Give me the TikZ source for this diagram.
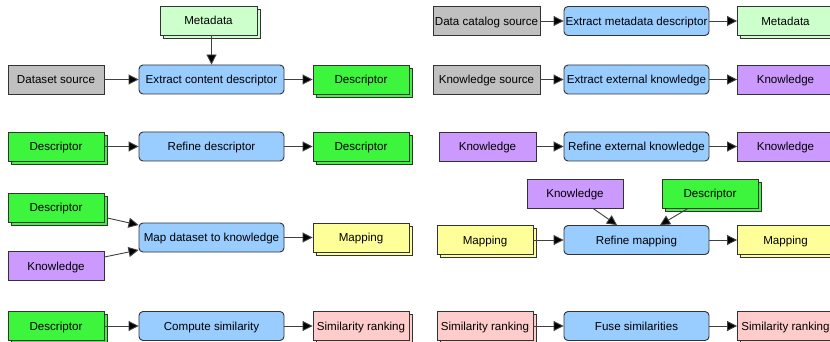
\documentclass[tikz,border=0pt]{standalone}
\usepackage{fontspec}
\setmainfont{Liberation Sans}
\usetikzlibrary{arrows.meta,shadows}
\definecolor{cgray}{HTML}{C0C0C0}
\definecolor{cblue}{HTML}{99CCFF}
\definecolor{cgreen}{HTML}{3CF53C}
\definecolor{clgreen}{HTML}{CCFFCC}
\definecolor{cpurple}{HTML}{CC99FF}
\definecolor{cyellow}{HTML}{FFFF99}
\definecolor{cpink}{HTML}{FFCCCC}
\definecolor{cborder}{HTML}{333333}
\tikzset{
  base/.style={draw=cborder, line width=0.9pt, inner sep=0pt, minimum height=29pt, minimum width=96pt, font=\fontsize{11.6}{13}\selectfont, text=black, text height=8.3pt, text depth=0pt},
  src/.style={base, fill=cgray},
  proc/.style={base, fill=cblue, rounded corners=4pt, minimum width=145pt},
  stack/.style={copy shadow={shadow xshift=3pt, shadow yshift=-3pt}},
  descbox/.style={base, fill=cgreen, stack},
  metabox/.style={base, fill=clgreen, stack},
  knowbox/.style={base, fill=cpurple},
  mapbox/.style={base, fill=cyellow, stack},
  simbox/.style={base, fill=cpink, stack},
  conn/.style={draw=black!75, line width=0.9pt, -{Triangle[length=10pt,width=10pt,fill=black]}},
}
\begin{document}
\begin{tikzpicture}[x=1pt,y=-1pt]
\clip (0,0) rectangle (830,342);
\fill[white] (0,0) rectangle (830,342);
% ---- left column ----
\node[src] (ds1) at (56,79.5) {Dataset source};
\node[proc] (ecd) at (211.5,79.5) {Extract content descriptor};
\node[descbox] (desc1) at (361,79.5) {Descriptor};
\node[metabox, minimum width=97pt] (meta1) at (208.5,20.5) {Metadata};
\draw[conn] (ds1) -- (ecd);
\draw[conn] (ecd) -- (desc1);
\draw[conn] (meta1.south -| ecd.north) -- (ecd.north);

\node[descbox] (desc2a) at (56,146.5) {Descriptor};
\node[proc] (rd) at (211.5,146.5) {Refine descriptor};
\node[descbox] (desc2b) at (361,146.5) {Descriptor};
\draw[conn] (desc2a) -- (rd);
\draw[conn] (rd) -- (desc2b);

\node[descbox] (desc3) at (56,207.5) {Descriptor};
\node[knowbox] (know3) at (56,266) {Knowledge};
\node[proc] (mdk) at (211.5,237.5) {Map dataset to knowledge};
\node[mapbox] (mapping3) at (361,237.5) {Mapping};
\draw[conn] ([yshift=-10.5pt,xshift=3pt]desc3.east) -- ([yshift=12.5pt]mdk.west);
\draw[conn] ([yshift=9pt]know3.east) -- ([yshift=-12.5pt]mdk.west);
\draw[conn] (mdk) -- (mapping3);

\node[descbox] (desc4) at (56,326) {Descriptor};
\node[proc] (cs) at (211.5,326) {Compute similarity};
\node[simbox] (sr4) at (361,326) {Similarity ranking};
\draw[conn] (desc4) -- (cs);
\draw[conn] (cs) -- (sr4);

% ---- right column ----
\node[src, minimum width=107pt] (dcs) at (486.5,21) {Data catalog source};
\node[proc] (emd) at (636.5,21) {Extract metadata descriptor};
\node[metabox] (meta2) at (785.5,21) {Metadata};
\draw[conn] (dcs) -- (emd);
\draw[conn] (emd) -- (meta2);

\node[src, minimum width=107pt] (ks) at (486.5,79.5) {Knowledge source};
\node[proc] (eek) at (636.5,79.5) {Extract external knowledge};
\node[knowbox] (know2) at (785.5,79.5) {Knowledge};
\draw[conn] (ks) -- (eek);
\draw[conn] (eek) -- (know2);

\node[knowbox, minimum width=97pt] (know3a) at (487.5,146.5) {Knowledge};
\node[proc] (rek) at (636.5,146.5) {Refine external knowledge};
\node[knowbox] (know3b) at (785.5,146.5) {Knowledge};
\draw[conn] (know3a) -- (rek);
\draw[conn] (rek) -- (know3b);

\node[knowbox] (ktop) at (575,193.5) {Knowledge};
\node[descbox] (dtop) at (710,193.5) {Descriptor};
\node[mapbox] (map4a) at (485,240) {Mapping};
\node[proc] (rm) at (636.5,240) {Refine mapping};
\node[mapbox] (map4b) at (785.5,240) {Mapping};
\draw[conn] ([xshift=18pt]ktop.south) -- ([xshift=-19.5pt]rm.north);
\draw[conn] ([xshift=-22pt]dtop.south) -- ([xshift=23.5pt]rm.north);
\draw[conn] (map4a) -- (rm);
\draw[conn] (rm) -- (map4b);

\node[simbox] (sr5a) at (485,326) {Similarity ranking};
\node[proc] (fs) at (636.5,326) {Fuse similarities};
\node[simbox] (sr5b) at (785.5,326) {Similarity ranking};
\draw[conn] (sr5a) -- (fs);
\draw[conn] (fs) -- (sr5b);
\end{tikzpicture}
\end{document}
